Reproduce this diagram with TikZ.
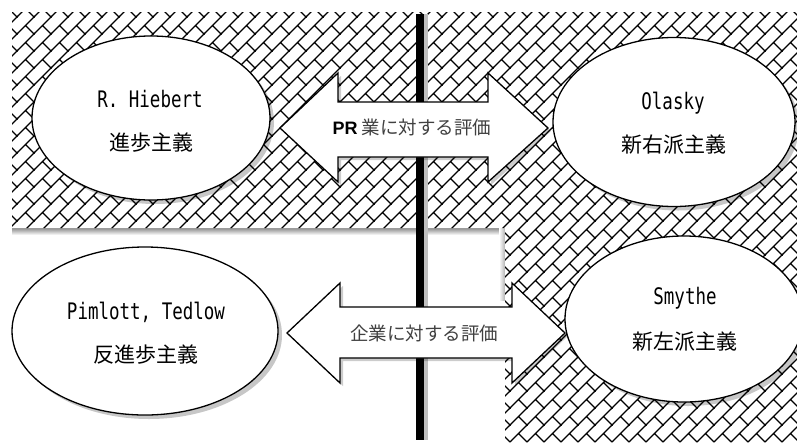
\documentclass[tikz,border=0pt]{standalone}
\usepackage{fontspec}
\usepackage{graphicx}
\usetikzlibrary{shapes.geometric,shadows,patterns}
\newfontfamily\jpfont{Noto Sans CJK JP}
\newfontfamily\monofont{DejaVu Sans Mono}
\newfontfamily\lsbfont{Liberation Sans}
\newcommand\talltext[1]{\scalebox{1}[1.3]{#1}}
\pgfdeclarepatternformonly{diagbrick}{\pgfqpoint{-1pt}{-1pt}}{\pgfqpoint{18pt}{18pt}}{\pgfqpoint{17pt}{17pt}}{%
  \pgfsetlinewidth{1.1pt}%
  \pgfpathmoveto{\pgfqpoint{-1pt}{-1pt}}%
  \pgfpathlineto{\pgfqpoint{18pt}{18pt}}%
  \pgfpathmoveto{\pgfqpoint{8.5pt}{8.5pt}}%
  \pgfpathlineto{\pgfqpoint{17.5pt}{-0.5pt}}%
  \pgfusepath{stroke}%
}
\tikzset{
  ell/.style={ellipse, draw=black, line width=1.3pt, fill=white, inner sep=0pt,
    drop shadow={shadow xshift=4pt, shadow yshift=-4pt, fill=black, opacity=0.22}},
  blockarrow/.style={draw=black, line width=1.3pt, fill=white, line join=miter,
    drop shadow={shadow xshift=3pt, shadow yshift=-3pt, fill=black, opacity=0.2}},
  lat/.style={font=\monofont\fontsize{17.5}{20}\selectfont, inner sep=0pt},
  jpn/.style={font=\jpfont\fontsize{21}{24}\selectfont, inner sep=0pt},
  arrtext/.style={font=\jpfont\fontsize{18.5}{22}\selectfont, text=black!75, inner sep=0pt},
}
\begin{document}
\begin{tikzpicture}[x=1pt,y=-1pt]
\useasboundingbox (0,0) rectangle (797,442);
\fill[white] (0,0) rectangle (797,442);
% shadow under the top band
\shade[top color=black!45, bottom color=white] (12,228) rectangle (505,235);
\shade[left color=white, right color=black!30] (499,228) rectangle (505,300);
% hatched region
\fill[white] (12,12) -- (797,12) -- (797,442) -- (505,442) -- (505,228) -- (12,228) -- cycle;
\fill[pattern=diagbrick, pattern color=black] (12,12) -- (797,12) -- (797,442) -- (505,442) -- (505,228) -- (12,228) -- cycle;
% vertical axis
\coordinate (vt) at (420,14);
\coordinate (vb) at (420,440);
\draw[black!25, line width=4pt] ([xshift=6pt]vt) -- ([xshift=6pt]vb);
\draw[black, line width=8.5pt] (vt) -- (vb);
% block arrows
\draw[blockarrow] (280,128) -- (338,73) -- (338,102) -- (488,102) -- (488,73) -- (548,128)
  -- (488,182) -- (488,157) -- (338,157) -- (338,182) -- cycle;
\draw[blockarrow] (287,333) -- (340,283) -- (340,307) -- (512,307) -- (512,283) -- (565,333)
  -- (512,383) -- (512,358) -- (340,358) -- (340,383) -- cycle;
% ellipses
\node[ell, minimum width=238pt, minimum height=164pt] (hieb) at (151,118) {};
\node[ell, minimum width=242pt, minimum height=169pt] (olas) at (674,122) {};
\node[ell, minimum width=266pt, minimum height=168pt] (piml) at (145,331) {};
\node[ell, minimum width=238pt, minimum height=166pt] (smyt) at (684,319) {};
% ellipse texts
\node[lat] (hiebA) at (150,99) {\talltext{R. Hiebert}};
\node[jpn] (hiebB) at (151,143) {進歩主義};
\node[lat] (olasA) at (673,103) {\talltext{Olasky}};
\node[jpn] (olasB) at (674,145) {新右派主義};
\node[lat] (pimlA) at (146,312) {\talltext{Pimlott, Tedlow}};
\node[jpn] (pimlB) at (146,355) {反進歩主義};
\node[lat] (smytA) at (685,298) {\talltext{Smythe}};
\node[jpn] (smytB) at (685,342) {新左派主義};
% arrow texts
\node[arrtext] (arrA) at (412,127) {{\lsbfont\bfseries\fontsize{18}{20}\selectfont\color{black}PR} 業に対する評価};
\node[arrtext] (arrB) at (424,333) {企業に対する評価};
\end{tikzpicture}
\end{document}
